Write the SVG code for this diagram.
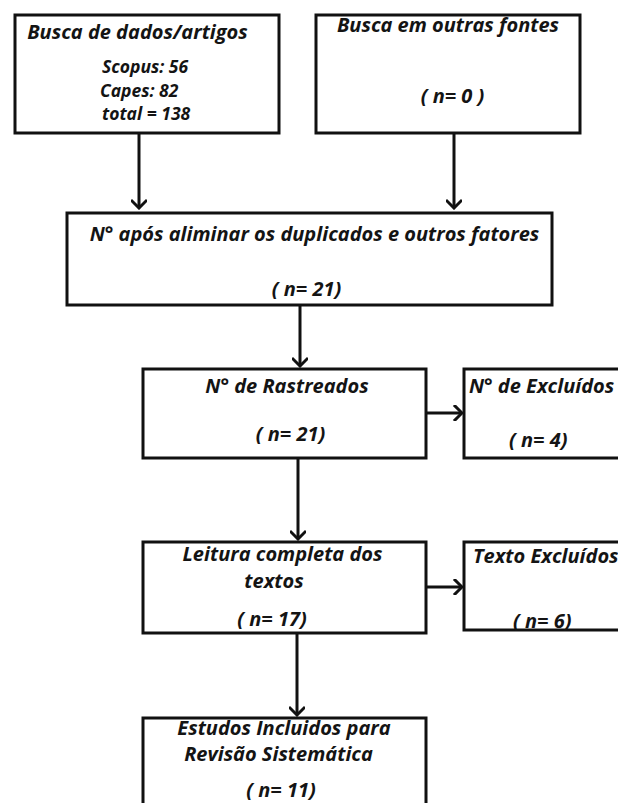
<svg xmlns="http://www.w3.org/2000/svg" width="618" height="803" viewBox="0 0 618 803">
<style>
  .box { fill: #ffffff; stroke: #111111; stroke-width: 3; }
  .t { font-family: "Open Sans", "Liberation Sans", sans-serif; font-weight: 700; font-style: italic; font-size: 20px; fill: #141414; }
  .s { font-size: 17.5px; }
  .m { text-anchor: middle; }
  .conn { fill: none; stroke: #111111; stroke-width: 3; }
</style>
<defs>
  <marker id="arr" viewBox="0 0 16 16" refX="14" refY="8" markerWidth="16" markerHeight="16" orient="auto" markerUnits="userSpaceOnUse">
    <path d="M7,1 L14,8 L7,15" fill="none" stroke="#111111" stroke-width="3" stroke-linecap="square"/>
  </marker>
</defs>
<rect width="618" height="803" fill="#ffffff"/>
<g id="connectors">
  <path class="conn" d="M139,134 V208" marker-end="url(#arr)"/>
  <path class="conn" d="M454,134 V208" marker-end="url(#arr)"/>
  <path class="conn" d="M300,306 V366" marker-end="url(#arr)"/>
  <path class="conn" d="M426,413 H462" marker-end="url(#arr)"/>
  <path class="conn" d="M298,458 V539" marker-end="url(#arr)"/>
  <path class="conn" d="M426,587 H462" marker-end="url(#arr)"/>
  <path class="conn" d="M297,634 V715" marker-end="url(#arr)"/>
</g>
<g id="busca-dados">
  <rect class="box" x="15" y="15" width="264" height="118"/>
  <text class="t m" x="137.5" y="39">Busca de dados/artigos</text>
  <text class="t s" x="102" y="73">Scopus: 56</text>
  <text class="t s" x="100" y="97">Capes: 82</text>
  <text class="t s" x="102" y="120">total = 138</text>
</g>
<g id="busca-outras">
  <rect class="box" x="316" y="15" width="264" height="118"/>
  <text class="t m" x="448" y="32">Busca em outras fontes</text>
  <text class="t m" x="452.5" y="103">( n= 0 )</text>
</g>
<g id="duplicados">
  <rect class="box" x="67" y="213" width="485" height="92"/>
  <text class="t m" x="314.5" y="241">N° após aliminar os duplicados e outros fatores</text>
  <text class="t m" x="306.5" y="296">( n= 21)</text>
</g>
<g id="rastreados">
  <rect class="box" x="143" y="369" width="283" height="89"/>
  <text class="t m" x="287" y="393">N° de Rastreados</text>
  <text class="t m" x="290.5" y="441">( n= 21)</text>
</g>
<g id="excluidos">
  <rect class="box" x="464" y="369" width="170" height="89"/>
  <text class="t" x="469" y="393">N° de Excluídos</text>
  <text class="t" x="509" y="447">( n= 4)</text>
</g>
<g id="leitura">
  <rect class="box" x="143" y="542" width="283" height="91"/>
  <text class="t m" x="282.5" y="561">Leitura completa dos</text>
  <text class="t m" x="274" y="588">textos</text>
  <text class="t m" x="272" y="626">( n= 17)</text>
</g>
<g id="texto-excluidos">
  <rect class="box" x="464" y="542" width="170" height="88"/>
  <text class="t" x="473" y="563">Texto Excluídos</text>
  <text class="t" x="513" y="628">( n= 6)</text>
</g>
<g id="incluidos">
  <rect class="box" x="143" y="718" width="283" height="100"/>
  <text class="t m" x="284" y="735">Estudos Incluidos para</text>
  <text class="t m" x="278.5" y="761">Revisão Sistemática</text>
  <text class="t m" x="281" y="797">( n= 11)</text>
</g>
</svg>
